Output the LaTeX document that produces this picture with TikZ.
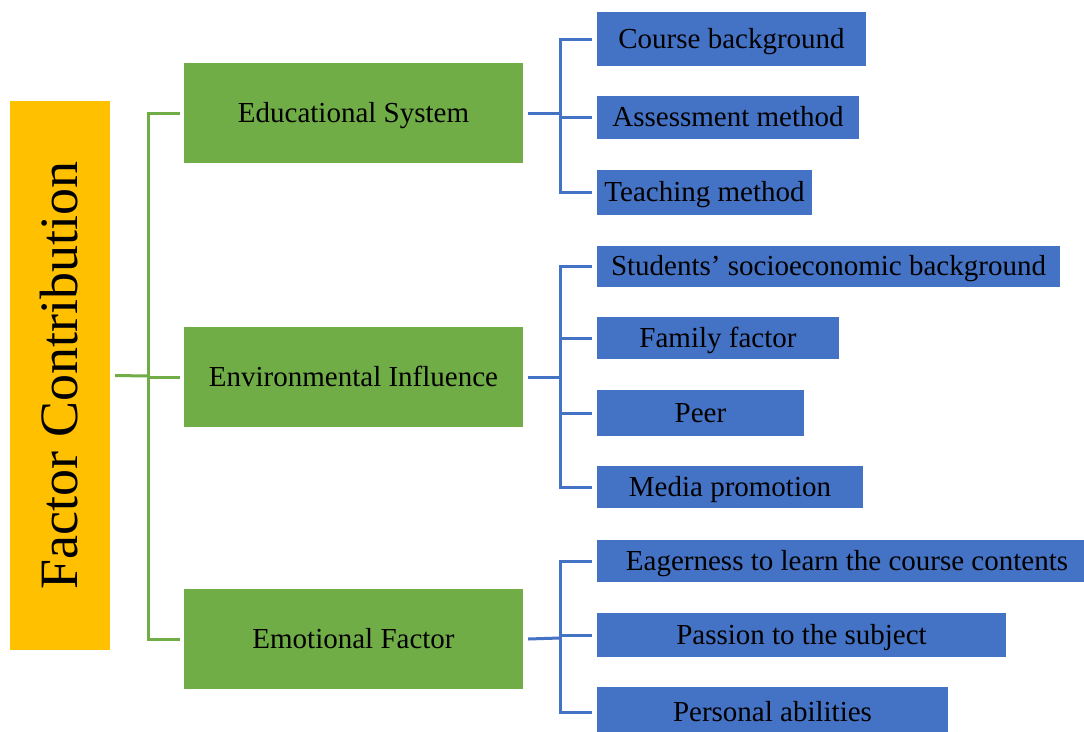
\documentclass[tikz,border=0pt]{standalone}
\usepackage{fontspec}
\setmainfont{Liberation Serif}
\definecolor{ycol}{HTML}{FFC000}
\definecolor{gcol}{HTML}{70AD47}
\definecolor{bcol}{HTML}{4472C4}
\begin{document}
\begin{tikzpicture}[x=1pt,y=-1pt,
  boxbase/.style={rectangle, inner sep=0pt, text height=24pt, text depth=6pt,
    font=\fontsize{29}{33}\selectfont},
  gbox/.style={boxbase, fill=gcol, minimum width=339pt, minimum height=100pt},
  bbox/.style={boxbase, fill=bcol},
  gline/.style={draw=gcol, line width=3pt},
  bline/.style={draw=bcol, line width=3pt}]
\clip (0,0) rectangle (1084,731);
\fill[white] (0,0) rectangle (1084,731);
% title
\node[fill=ycol, minimum width=100pt, minimum height=549pt, inner sep=0pt] (title) at (60,375.5) {};
\node[rotate=90, font=\fontsize{54}{60}\selectfont, inner sep=0pt] (ttext) at ([xshift=-1pt]title.center) {Factor Contribution};
% green level
\node[gbox] (edu) at (353.5,113) {Educational System};
\node[gbox] (env) at (353.5,377) {Environmental Influence};
\node[gbox] (emo) at (353.5,639) {Emotional Factor};
% blue level
\node[bbox, minimum width=269pt, minimum height=54pt] (cb) at (731.5,39) {Course background};
\node[bbox, minimum width=262pt, minimum height=43pt] (am) at (728,117.5) {Assessment method};
\node[bbox, minimum width=215pt, minimum height=45pt] (tm) at (704.5,192.5) {Teaching method};
\node[bbox, minimum width=463pt, minimum height=41pt] (ss) at (828.5,266.5) {Students’ socioeconomic background};
\node[bbox, minimum width=242pt, minimum height=42pt] (ff) at (718,338) {Family factor};
\node[bbox, minimum width=207pt, minimum height=46pt] (pe) at (700.5,413) {Peer};
\node[bbox, minimum width=266pt, minimum height=42pt] (mp) at (730,487) {Media promotion};
\node[bbox, minimum width=500pt, minimum height=42pt] (eg) at (847,561) {Eagerness to learn the course contents};
\node[bbox, minimum width=409pt, minimum height=44pt] (ps) at (801.5,635) {Passion to the subject};
\node[bbox, minimum width=351pt, minimum height=50pt] (pa) at (772.5,712) {Personal abilities};
% green connectors
\coordinate (gj) at (148,376);
\draw[gline] ([xshift=5pt]title.east) -- (gj);
\draw[gline] ([xshift=-4pt]edu.west) -| (gj) |- ([xshift=-4pt]emo.west);
\draw[gline] (gj |- env.west) -- ([xshift=-4pt]env.west);
% blue connectors: educational
\coordinate (bj1) at (560,113);
\draw[bline] ([xshift=5pt]edu.east) -- (bj1);
\draw[bline] ([xshift=-5pt]cb.west) -| (bj1) |- ([xshift=-5pt]tm.west);
\draw[bline] (bj1 |- am.west) -- ([xshift=-5pt]am.west);
% blue connectors: environmental
\coordinate (bj2) at (560,377);
\draw[bline] ([xshift=5pt]env.east) -- (bj2);
\draw[bline] ([xshift=-5pt]ss.west) -| (bj2) |- ([xshift=-5pt]mp.west);
\draw[bline] (bj2 |- ff.west) -- ([xshift=-5pt]ff.west);
\draw[bline] (bj2 |- pe.west) -- ([xshift=-5pt]pe.west);
% blue connectors: emotional
\coordinate (bj3) at (560,638);
\draw[bline] ([xshift=5pt]emo.east) -- (bj3);
\draw[bline] ([xshift=-5pt]eg.west) -| (bj3) |- ([xshift=-5pt]pa.west);
\draw[bline] (bj3 |- ps.west) -- ([xshift=-5pt]ps.west);
\end{tikzpicture}
\end{document}
